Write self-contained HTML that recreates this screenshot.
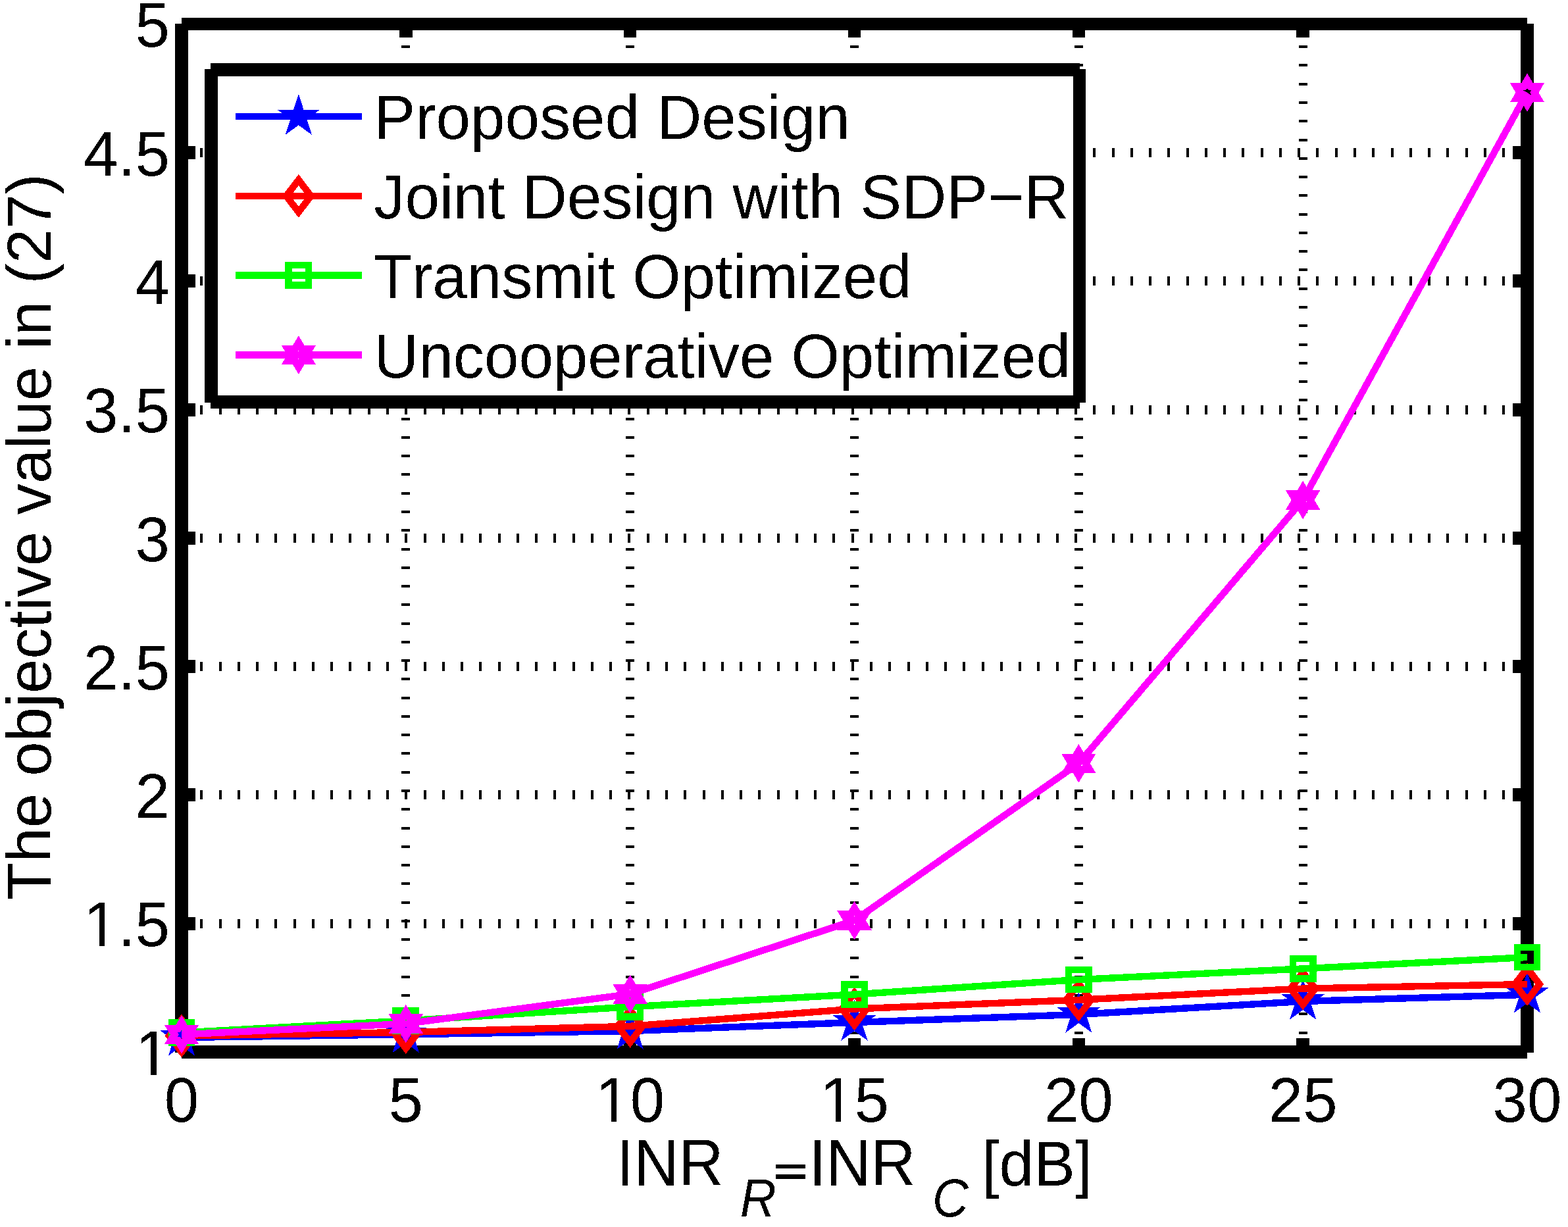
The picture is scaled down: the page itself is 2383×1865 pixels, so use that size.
<!DOCTYPE html><html><head><meta charset="utf-8"><title>The objective value in (27) vs INR</title><style>html,body{margin:0;padding:0;background:#fff;}svg{display:block;}rect,line,polyline,polygon{shape-rendering:crispEdges;}text{filter:url(#bin);font-kerning:none;font-family:"Liberation Sans",Arial,Helvetica,sans-serif;fill:#000;}</style></head><body>
<svg width="2383" height="1865" viewBox="0 0 2383 1865">
<defs><filter id="bin" x="-5%" y="-20%" width="110%" height="140%" color-interpolation-filters="sRGB"><feComponentTransfer><feFuncA type="discrete" tableValues="0 1"/></feComponentTransfer></filter></defs>
<rect x="0" y="0" width="2383" height="1865" fill="#fff"/>
<g stroke="#000" stroke-dasharray="4 24.27" fill="none"><line x1="616.83" y1="1599.8" x2="616.83" y2="36.6" stroke-width="13"/><line x1="957.67" y1="1599.8" x2="957.67" y2="36.6" stroke-width="13"/><line x1="1298.50" y1="1599.8" x2="1298.50" y2="36.6" stroke-width="13"/><line x1="1639.33" y1="1599.8" x2="1639.33" y2="36.6" stroke-width="13"/><line x1="1980.17" y1="1599.8" x2="1980.17" y2="36.6" stroke-width="13"/><line x1="276.0" y1="1403.70" x2="2321.0" y2="1403.70" stroke-width="14"/><line x1="276.0" y1="1208.40" x2="2321.0" y2="1208.40" stroke-width="14"/><line x1="276.0" y1="1013.10" x2="2321.0" y2="1013.10" stroke-width="14"/><line x1="276.0" y1="817.80" x2="2321.0" y2="817.80" stroke-width="14"/><line x1="276.0" y1="622.50" x2="2321.0" y2="622.50" stroke-width="14"/><line x1="276.0" y1="427.20" x2="2321.0" y2="427.20" stroke-width="14"/><line x1="276.0" y1="231.90" x2="2321.0" y2="231.90" stroke-width="14"/></g>
<g fill="#000"><rect x="266" y="36" width="20" height="1564"/><rect x="2311" y="36" width="20" height="1564"/><rect x="276" y="27" width="2045" height="19"/><rect x="276" y="1589" width="2045" height="20"/><rect x="607.08" y="1578" width="19.5" height="11"/><rect x="607.08" y="46" width="19.5" height="11"/><rect x="947.92" y="1578" width="19.5" height="11"/><rect x="947.92" y="46" width="19.5" height="11"/><rect x="1288.75" y="1578" width="19.5" height="11"/><rect x="1288.75" y="46" width="19.5" height="11"/><rect x="1629.58" y="1578" width="19.5" height="11"/><rect x="1629.58" y="46" width="19.5" height="11"/><rect x="1970.42" y="1578" width="19.5" height="11"/><rect x="1970.42" y="46" width="19.5" height="11"/><rect x="286" y="1393.70" width="11" height="20"/><rect x="2299" y="1393.70" width="12" height="20"/><rect x="286" y="1198.40" width="11" height="20"/><rect x="2299" y="1198.40" width="12" height="20"/><rect x="286" y="1003.10" width="11" height="20"/><rect x="2299" y="1003.10" width="12" height="20"/><rect x="286" y="807.80" width="11" height="20"/><rect x="2299" y="807.80" width="12" height="20"/><rect x="286" y="612.50" width="11" height="20"/><rect x="2299" y="612.50" width="12" height="20"/><rect x="286" y="417.20" width="11" height="20"/><rect x="2299" y="417.20" width="12" height="20"/><rect x="286" y="221.90" width="11" height="20"/><rect x="2299" y="221.90" width="12" height="20"/></g>
<polyline points="276.00,1577.00 616.83,1572.30 957.67,1567.10 1298.50,1554.00 1639.33,1542.00 1980.17,1522.00 2321.00,1511.80" fill="none" stroke="#0000ff" stroke-width="10.4" stroke-linejoin="round" stroke-linecap="butt"/>
<polygon points="276.00,1559.50 279.93,1571.59 292.64,1571.59 282.36,1579.07 286.29,1591.16 276.00,1583.68 265.71,1591.16 269.64,1579.07 259.36,1571.59 272.07,1571.59" fill="none" stroke="#0000ff" stroke-width="10.4" stroke-linejoin="miter" stroke-miterlimit="10"/><polygon points="616.83,1554.80 620.76,1566.89 633.48,1566.89 623.19,1574.37 627.12,1586.46 616.83,1578.98 606.55,1586.46 610.48,1574.37 600.19,1566.89 612.90,1566.89" fill="none" stroke="#0000ff" stroke-width="10.4" stroke-linejoin="miter" stroke-miterlimit="10"/><polygon points="957.67,1549.60 961.60,1561.69 974.31,1561.69 964.02,1569.17 967.95,1581.26 957.67,1573.78 947.38,1581.26 951.31,1569.17 941.02,1561.69 953.74,1561.69" fill="none" stroke="#0000ff" stroke-width="10.4" stroke-linejoin="miter" stroke-miterlimit="10"/><polygon points="1298.50,1536.50 1302.43,1548.59 1315.14,1548.59 1304.86,1556.07 1308.79,1568.16 1298.50,1560.68 1288.21,1568.16 1292.14,1556.07 1281.86,1548.59 1294.57,1548.59" fill="none" stroke="#0000ff" stroke-width="10.4" stroke-linejoin="miter" stroke-miterlimit="10"/><polygon points="1639.33,1524.50 1643.26,1536.59 1655.98,1536.59 1645.69,1544.07 1649.62,1556.16 1639.33,1548.68 1629.05,1556.16 1632.98,1544.07 1622.69,1536.59 1635.40,1536.59" fill="none" stroke="#0000ff" stroke-width="10.4" stroke-linejoin="miter" stroke-miterlimit="10"/><polygon points="1980.17,1504.50 1984.10,1516.59 1996.81,1516.59 1986.52,1524.07 1990.45,1536.16 1980.17,1528.68 1969.88,1536.16 1973.81,1524.07 1963.52,1516.59 1976.24,1516.59" fill="none" stroke="#0000ff" stroke-width="10.4" stroke-linejoin="miter" stroke-miterlimit="10"/><polygon points="2321.00,1494.30 2324.93,1506.39 2337.64,1506.39 2327.36,1513.87 2331.29,1525.96 2321.00,1518.48 2310.71,1525.96 2314.64,1513.87 2304.36,1506.39 2317.07,1506.39" fill="none" stroke="#0000ff" stroke-width="10.4" stroke-linejoin="miter" stroke-miterlimit="10"/>
<polyline points="276.00,1574.50 616.83,1569.00 957.67,1559.80 1298.50,1533.50 1639.33,1519.80 1980.17,1502.60 2321.00,1496.00" fill="none" stroke="#ff0000" stroke-width="10.4" stroke-linejoin="round" stroke-linecap="butt"/>
<polygon points="276.00,1550.10 294.75,1574.50 276.00,1598.90 257.25,1574.50" fill="none" stroke="#ff0000" stroke-width="10.4" stroke-linejoin="miter" stroke-miterlimit="10"/><polygon points="616.83,1544.60 635.58,1569.00 616.83,1593.40 598.08,1569.00" fill="none" stroke="#ff0000" stroke-width="10.4" stroke-linejoin="miter" stroke-miterlimit="10"/><polygon points="957.67,1535.40 976.42,1559.80 957.67,1584.20 938.92,1559.80" fill="none" stroke="#ff0000" stroke-width="10.4" stroke-linejoin="miter" stroke-miterlimit="10"/><polygon points="1298.50,1509.10 1317.25,1533.50 1298.50,1557.90 1279.75,1533.50" fill="none" stroke="#ff0000" stroke-width="10.4" stroke-linejoin="miter" stroke-miterlimit="10"/><polygon points="1639.33,1495.40 1658.08,1519.80 1639.33,1544.20 1620.58,1519.80" fill="none" stroke="#ff0000" stroke-width="10.4" stroke-linejoin="miter" stroke-miterlimit="10"/><polygon points="1980.17,1478.20 1998.92,1502.60 1980.17,1527.00 1961.42,1502.60" fill="none" stroke="#ff0000" stroke-width="10.4" stroke-linejoin="miter" stroke-miterlimit="10"/><polygon points="2321.00,1471.60 2339.75,1496.00 2321.00,1520.40 2302.25,1496.00" fill="none" stroke="#ff0000" stroke-width="10.4" stroke-linejoin="miter" stroke-miterlimit="10"/>
<polyline points="276.00,1569.50 616.83,1551.50 957.67,1530.30 1298.50,1511.50 1639.33,1489.00 1980.17,1472.40 2321.00,1455.00" fill="none" stroke="#00ff00" stroke-width="10.4" stroke-linejoin="round" stroke-linecap="butt"/>
<rect x="260.80" y="1554.30" width="30.4" height="30.4" fill="none" stroke="#00ff00" stroke-width="10.4" stroke-linejoin="miter"/><rect x="601.63" y="1536.30" width="30.4" height="30.4" fill="none" stroke="#00ff00" stroke-width="10.4" stroke-linejoin="miter"/><rect x="942.47" y="1515.10" width="30.4" height="30.4" fill="none" stroke="#00ff00" stroke-width="10.4" stroke-linejoin="miter"/><rect x="1283.30" y="1496.30" width="30.4" height="30.4" fill="none" stroke="#00ff00" stroke-width="10.4" stroke-linejoin="miter"/><rect x="1624.13" y="1473.80" width="30.4" height="30.4" fill="none" stroke="#00ff00" stroke-width="10.4" stroke-linejoin="miter"/><rect x="1964.97" y="1457.20" width="30.4" height="30.4" fill="none" stroke="#00ff00" stroke-width="10.4" stroke-linejoin="miter"/><rect x="2305.80" y="1439.80" width="30.4" height="30.4" fill="none" stroke="#00ff00" stroke-width="10.4" stroke-linejoin="miter"/>
<polyline points="276.00,1572.50 616.83,1556.00 957.67,1510.90 1298.50,1399.00 1639.33,1160.30 1980.17,760.00 2321.00,140.70" fill="none" stroke="#ff00ff" stroke-width="10.4" stroke-linejoin="round" stroke-linecap="butt"/>
<polygon transform="translate(276.00,1572.50) scale(1.03,1)" points="0.00,-18.10 5.23,-9.05 15.68,-9.05 10.45,0.00 15.68,9.05 5.23,9.05 0.00,18.10 -5.23,9.05 -15.68,9.05 -10.45,0.00 -15.68,-9.05 -5.23,-9.05" fill="none" stroke="#ff00ff" stroke-width="11.2" stroke-linejoin="miter" stroke-miterlimit="10"/><polygon transform="translate(616.83,1556.00) scale(1.03,1)" points="0.00,-18.10 5.23,-9.05 15.68,-9.05 10.45,0.00 15.68,9.05 5.23,9.05 0.00,18.10 -5.23,9.05 -15.68,9.05 -10.45,0.00 -15.68,-9.05 -5.23,-9.05" fill="none" stroke="#ff00ff" stroke-width="11.2" stroke-linejoin="miter" stroke-miterlimit="10"/><polygon transform="translate(957.67,1510.90) scale(1.03,1)" points="0.00,-18.10 5.23,-9.05 15.68,-9.05 10.45,0.00 15.68,9.05 5.23,9.05 0.00,18.10 -5.23,9.05 -15.68,9.05 -10.45,0.00 -15.68,-9.05 -5.23,-9.05" fill="none" stroke="#ff00ff" stroke-width="11.2" stroke-linejoin="miter" stroke-miterlimit="10"/><polygon transform="translate(1298.50,1399.00) scale(1.03,1)" points="0.00,-18.10 5.23,-9.05 15.68,-9.05 10.45,0.00 15.68,9.05 5.23,9.05 0.00,18.10 -5.23,9.05 -15.68,9.05 -10.45,0.00 -15.68,-9.05 -5.23,-9.05" fill="none" stroke="#ff00ff" stroke-width="11.2" stroke-linejoin="miter" stroke-miterlimit="10"/><polygon transform="translate(1639.33,1160.30) scale(1.03,1)" points="0.00,-18.10 5.23,-9.05 15.68,-9.05 10.45,0.00 15.68,9.05 5.23,9.05 0.00,18.10 -5.23,9.05 -15.68,9.05 -10.45,0.00 -15.68,-9.05 -5.23,-9.05" fill="none" stroke="#ff00ff" stroke-width="11.2" stroke-linejoin="miter" stroke-miterlimit="10"/><polygon transform="translate(1980.17,760.00) scale(1.03,1)" points="0.00,-18.10 5.23,-9.05 15.68,-9.05 10.45,0.00 15.68,9.05 5.23,9.05 0.00,18.10 -5.23,9.05 -15.68,9.05 -10.45,0.00 -15.68,-9.05 -5.23,-9.05" fill="none" stroke="#ff00ff" stroke-width="11.2" stroke-linejoin="miter" stroke-miterlimit="10"/><polygon transform="translate(2321.00,140.70) scale(1.03,1)" points="0.00,-18.10 5.23,-9.05 15.68,-9.05 10.45,0.00 15.68,9.05 5.23,9.05 0.00,18.10 -5.23,9.05 -15.68,9.05 -10.45,0.00 -15.68,-9.05 -5.23,-9.05" fill="none" stroke="#ff00ff" stroke-width="11.2" stroke-linejoin="miter" stroke-miterlimit="10"/>
<rect x="321" y="106" width="1320" height="505" fill="#fff"/>
<g fill="#000"><rect x="311" y="105" width="20" height="507"/><rect x="1631" y="105" width="19" height="507"/><rect x="320" y="96" width="1321" height="20"/><rect x="320" y="601" width="1321" height="20"/></g>
<line x1="358" y1="177.2" x2="550" y2="177.2" stroke="#0000ff" stroke-width="10.4"/>
<polygon points="453.80,159.70 457.73,171.79 470.44,171.79 460.16,179.27 464.09,191.36 453.80,183.88 443.51,191.36 447.44,179.27 437.16,171.79 449.87,171.79" fill="none" stroke="#0000ff" stroke-width="10.4" stroke-linejoin="miter" stroke-miterlimit="10"/>
<text transform="translate(568.3,211) scale(1,1.01)" font-size="94.3">Proposed Design</text>
<line x1="358" y1="297.9" x2="550" y2="297.9" stroke="#ff0000" stroke-width="10.4"/>
<polygon points="453.80,273.50 472.55,297.90 453.80,322.30 435.05,297.90" fill="none" stroke="#ff0000" stroke-width="10.4" stroke-linejoin="miter" stroke-miterlimit="10"/>
<text transform="translate(568.3,331.9) scale(1,1.01)" font-size="94.3">Joint Design with SDP−R</text>
<line x1="358" y1="418.5" x2="550" y2="418.5" stroke="#00ff00" stroke-width="10.4"/>
<rect x="438.60" y="403.30" width="30.4" height="30.4" fill="none" stroke="#00ff00" stroke-width="10.4" stroke-linejoin="miter"/>
<text transform="translate(568.3,452.9) scale(1,1.01)" font-size="94.3">Transmit Optimized</text>
<line x1="358" y1="539.5" x2="550" y2="539.5" stroke="#ff00ff" stroke-width="10.4"/>
<polygon transform="translate(453.80,539.50) scale(1.03,1)" points="0.00,-18.10 5.23,-9.05 15.68,-9.05 10.45,0.00 15.68,9.05 5.23,9.05 0.00,18.10 -5.23,9.05 -15.68,9.05 -10.45,0.00 -15.68,-9.05 -5.23,-9.05" fill="none" stroke="#ff00ff" stroke-width="11.2" stroke-linejoin="miter" stroke-miterlimit="10"/>
<text transform="translate(568.3,574) scale(1,1.01)" font-size="94.3">Uncooperative Optimized</text>
<text transform="translate(276.00,1705) scale(1,1.02)" font-size="94.3" text-anchor="middle">0</text>
<text transform="translate(616.83,1705) scale(1,1.02)" font-size="94.3" text-anchor="middle">5</text>
<text transform="translate(957.67,1705) scale(1,1.02)" font-size="94.3" text-anchor="middle">10</text>
<text transform="translate(1298.50,1705) scale(1,1.02)" font-size="94.3" text-anchor="middle">15</text>
<text transform="translate(1639.33,1705) scale(1,1.02)" font-size="94.3" text-anchor="middle">20</text>
<text transform="translate(1980.17,1705) scale(1,1.02)" font-size="94.3" text-anchor="middle">25</text>
<text transform="translate(2321.00,1705) scale(1,1.02)" font-size="94.3" text-anchor="middle">30</text>
<text transform="translate(258,1633.70) scale(1,1.02)" font-size="94.3" text-anchor="end">1</text>
<text transform="translate(258,1438.40) scale(1,1.02)" font-size="94.3" text-anchor="end">1.5</text>
<text transform="translate(258,1243.10) scale(1,1.02)" font-size="94.3" text-anchor="end">2</text>
<text transform="translate(258,1047.80) scale(1,1.02)" font-size="94.3" text-anchor="end">2.5</text>
<text transform="translate(258,852.50) scale(1,1.02)" font-size="94.3" text-anchor="end">3</text>
<text transform="translate(258,657.20) scale(1,1.02)" font-size="94.3" text-anchor="end">3.5</text>
<text transform="translate(258,461.90) scale(1,1.02)" font-size="94.3" text-anchor="end">4</text>
<text transform="translate(258,266.60) scale(1,1.02)" font-size="94.3" text-anchor="end">4.5</text>
<text transform="translate(258,71.30) scale(1,1.02)" font-size="94.3" text-anchor="end">5</text>
<g fill="#fff"><rect x="911.40" y="1696.31" width="17.53" height="9.69"/><rect x="937.27" y="1696.31" width="16.79" height="9.69"/><rect x="1252.24" y="1696.31" width="17.53" height="9.69"/><rect x="1278.10" y="1696.31" width="16.79" height="9.69"/><rect x="211.74" y="1625.01" width="17.53" height="9.69"/><rect x="237.60" y="1625.01" width="16.79" height="9.69"/><rect x="133.09" y="1429.71" width="17.53" height="9.69"/><rect x="158.96" y="1429.71" width="16.79" height="9.69"/></g>
<text transform="translate(77,1367.9) rotate(-90) scale(1,1.01)" font-size="94.12">The objective value in (27)</text>
<text transform="translate(937.1,1801.8) scale(1,1.063)" font-size="94.3">INR</text>
<text transform="translate(1124.7,1848.8) scale(1,1.063)" font-size="76" font-style="italic">R</text>
<text transform="translate(1171.25,1805.8) scale(1,1.12)" font-size="72.2" style="font-family:'DejaVu Sans',sans-serif">=</text>
<text transform="translate(1229.2,1801.8) scale(1,1.063)" font-size="94.3">INR</text>
<text transform="translate(1417,1849) scale(1,1.063)" font-size="76" font-style="italic">C</text>
<text transform="translate(1492.3,1801.8) scale(1,1.03)" font-size="94.3">[dB]</text>
</svg></body></html>
